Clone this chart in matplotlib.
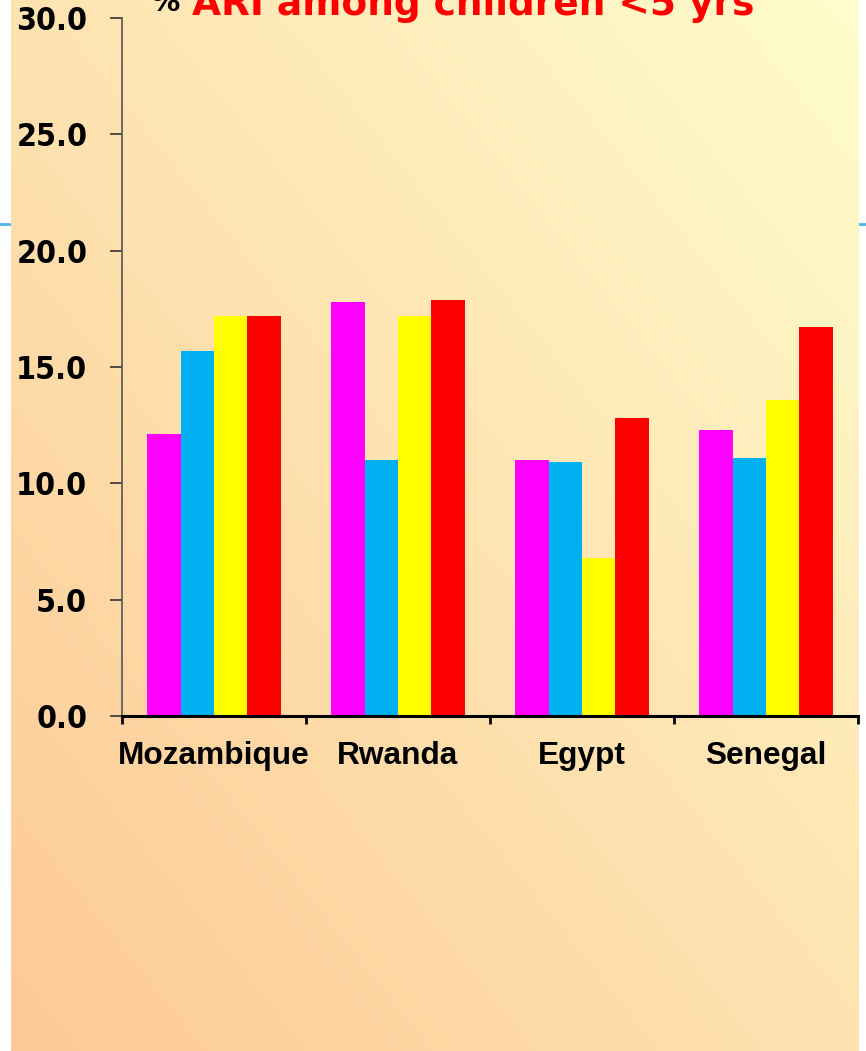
import numpy as np
import matplotlib
matplotlib.use("Agg")
import matplotlib.pyplot as plt
from matplotlib.colors import to_rgb
from matplotlib.lines import Line2D

# Data
countries = ["Mozambique", "Rwanda", "Egypt", "Senegal"]
series_magenta = [12.1, 17.8, 11.0, 12.3]
series_blue = [15.7, 11.0, 10.9, 11.1]
series_yellow = [17.2, 17.2, 6.8, 13.6]
series_red = [17.2, 17.9, 12.8, 16.7]
yticks = [0.0, 5.0, 10.0, 15.0, 20.0, 25.0, 30.0]

series = [series_magenta, series_blue, series_yellow, series_red]
colors = ["#FF00FF", "#00B0F0", "#FFFF00", "#FF0000"]

W, H = 866, 1051
fig = plt.figure(figsize=(W / 100, H / 100), dpi=100)
fig.patch.set_facecolor("white")

# Diagonal warm gradient panel (orange bottom-left -> pale yellow top-right)
bg = fig.add_axes([11 / W, 0, 848 / W, 1], zorder=-5)
nx, ny = 200, 250
gx = np.linspace(0, 1, nx)[None, :]
gy = np.linspace(1, 0, ny)[:, None]
t = 0.5 * gx + 0.5 * gy
c0 = np.array(to_rgb("#FDC994"))
c1 = np.array(to_rgb("#FFFDCD"))
img = c0[None, None, :] * (1 - t[..., None]) + c1[None, None, :] * t[..., None]
bg.imshow(img, aspect="auto", extent=[0, 1, 0, 1], interpolation="bilinear")
bg.set_axis_off()

# Thin slide rule visible at the edges
for x0, x1 in [(0, 11), (859, 866)]:
    fig.add_artist(Line2D([x0 / W, x1 / W], [1 - 223.5 / H] * 2,
                          color="#4FB4E6", lw=2, zorder=-10))

# Chart axes
ax = fig.add_axes([122 / W, 1 - 716 / H, 736 / W, 698 / H])
ax.patch.set_alpha(0)

x = np.arange(len(countries))
bw = 0.182
for i, (vals, col) in enumerate(zip(series, colors)):
    ax.bar(x + (i - 1.5) * bw, vals, width=bw, color=col, linewidth=0)

ax.set_xlim(-0.5, len(countries) - 0.5)
ax.set_ylim(0, 30)

ax.spines["top"].set_visible(False)
ax.spines["right"].set_visible(False)
ax.spines["left"].set_color("#555555")
ax.spines["left"].set_linewidth(1.2)
ax.spines["bottom"].set_color("black")
ax.spines["bottom"].set_linewidth(2.2)

ax.set_yticks(yticks)
ax.set_yticklabels([f"{v:.1f}" for v in yticks],
                   fontfamily="DejaVu Sans", fontweight="bold",
                   fontstretch="condensed", fontsize=23)
ax.tick_params(axis="y", direction="out", length=9, width=1.2,
               color="#333333", pad=16)

ax.set_xticks(x)
ax.set_xticklabels(countries, fontfamily="Liberation Sans",
                   fontweight="bold", fontsize=22.8)
ax.tick_params(axis="x", which="major", length=0, pad=18)
ax.set_xticks(np.arange(-0.5, len(countries)), minor=True)
ax.tick_params(axis="x", which="minor", direction="out", length=6,
               width=2, color="black")

# Title, partly above the frame
fig.text(151 / W, 1 - 11 / H, "%", color="black", fontsize=21,
         fontweight="bold", fontfamily="DejaVu Sans", va="baseline")
fig.text(192 / W, 1 - 15 / H, "ARI among children <5 yrs", color="#FF0000",
         fontsize=27, fontweight="bold", fontfamily="DejaVu Sans",
         va="baseline")

fig.savefig("out.png", dpi=100)
